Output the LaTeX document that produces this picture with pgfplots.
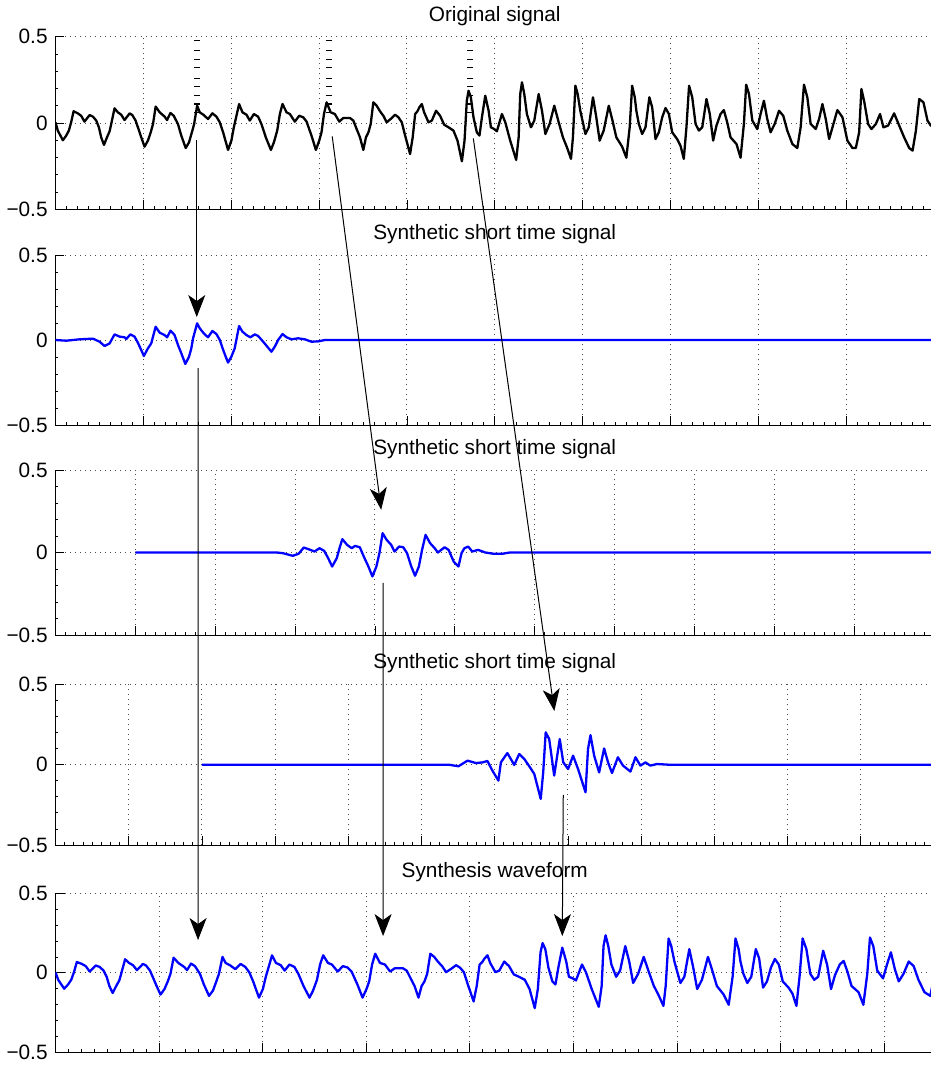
\documentclass[border=0pt]{standalone}
\usepackage{fontspec}
\setmainfont{Liberation Sans}
\usepackage{pgfplots}
\pgfplotsset{compat=1.18}
\usepackage{pgfplotstable}
\usetikzlibrary{arrows.meta}

\definecolor{mblue}{RGB}{0,0,255}
\newcommand\fs{\fontsize{10.4}{12.5}\selectfont}

% speech segment, sample index vs amplitude
\pgfplotstableread{
s v
0 0.004
13 -0.044
42 -0.100
61 -0.073
76 -0.044
89 0.004
103 0.068
127 0.056
146 0.042
165 0.008
194 0.046
213 0.037
232 0.014
247 -0.025
260 -0.083
276 -0.127
293 -0.083
308 -0.048
317 -0.006
336 0.085
355 0.062
374 0.048
393 0.017
422 0.056
437 0.046
456 0.014
469 -0.025
488 -0.083
507 -0.137
526 -0.102
542 -0.054
555 -0.006
570 0.095
593 0.062
621 0.037
635 0.017
654 0.058
673 0.042
697 -0.006
716 -0.073
741 -0.145
760 -0.112
779 -0.044
789 -0.006
806 0.100
821 0.062
844 0.046
868 0.023
893 0.056
916 0.037
935 0.004
954 -0.054
982 -0.156
1001 -0.102
1015 -0.025
1030 0.042
1045 0.110
1064 0.062
1087 0.048
1106 0.014
1129 0.052
1153 0.037
1172 -0.006
1197 -0.083
1226 -0.156
1243 -0.112
1262 -0.044
1277 0.052
1292 0.110
1315 0.062
1334 0.052
1362 0.008
1387 0.042
1410 0.033
1429 0.008
1457 -0.073
1482 -0.156
1501 -0.102
1514 -0.054
1528 0.052
1543 0.120
1566 0.062
1590 0.052
1615 0.008
1638 0.029
1676 0.029
1695 0.014
1714 -0.035
1733 -0.083
1752 -0.156
1767 -0.083
1781 -0.054
1794 -0.006
1809 0.120
1828 0.100
1847 0.068
1866 0.042
1885 0.004
1914 0.029
1933 0.048
1952 0.033
1971 0.004
1990 -0.073
2018 -0.180
2033 -0.083
2047 0.052
2060 0.068
2071 0.091
2085 0.110
2098 0.062
2123 0.004
2142 0.014
2166 0.071
2189 0.042
2212 -0.010
2237 -0.025
2265 -0.044
2288 -0.102
2313 -0.222
2328 -0.102
2341 0.129
2351 0.187
2364 0.149
2379 0.033
2398 -0.054
2413 -0.073
2427 0.033
2446 0.158
2465 0.071
2478 -0.025
2497 -0.035
2512 -0.048
2527 0.004
2541 0.052
2560 0.004
2588 -0.102
2622 -0.214
2636 -0.083
2645 0.168
2655 0.236
2668 0.168
2683 0.052
2706 -0.025
2725 0.014
2750 0.168
2769 0.071
2788 -0.064
2812 -0.006
2839 0.100
2864 0.004
2888 -0.083
2911 -0.141
2934 -0.208
2945 -0.083
2959 0.216
2972 0.168
2987 0.071
3016 -0.064
3035 -0.025
3059 0.149
3078 0.033
3097 -0.102
3120 -0.044
3149 0.100
3168 0.023
3192 -0.083
3225 -0.137
3249 -0.201
3268 -0.025
3282 0.216
3297 0.149
3306 0.071
3320 -0.006
3339 -0.064
3358 -0.025
3380 0.149
3396 0.091
3415 -0.093
3434 -0.054
3453 0.033
3472 0.087
3491 0.052
3510 -0.054
3538 -0.093
3557 -0.131
3576 -0.208
3591 -0.025
3606 0.216
3624 0.149
3643 -0.006
3662 -0.044
3681 -0.025
3705 0.139
3724 0.052
3743 -0.102
3762 -0.015
3785 0.052
3804 0.075
3823 0.004
3842 -0.083
3876 -0.122
3899 -0.201
3918 -0.006
3931 0.222
3947 0.168
3966 0.014
3994 -0.035
4013 0.052
4032 0.129
4051 0.023
4070 -0.054
4093 -0.006
4118 0.071
4142 0.042
4165 -0.044
4194 -0.122
4222 -0.145
4241 -0.025
4260 0.222
4279 0.149
4298 -0.006
4327 -0.035
4346 0.023
4365 0.110
4384 0.023
4403 -0.093
4425 -0.015
4450 0.075
4479 0.033
4507 -0.102
4536 -0.145
4555 -0.145
4574 -0.054
4587 0.197
4602 0.129
4625 -0.006
4644 -0.035
4669 -0.006
4693 0.052
4712 -0.025
4739 -0.015
4773 0.056
4802 -0.015
4830 -0.083
4859 -0.145
4878 -0.160
4897 -0.044
4916 0.139
4940 0.120
4963 0.014
4982 -0.015
5000 -0.020
}\original

% windowed frame around the first pitch mark
\pgfplotstableread{
s v
0 0
61 -0.004
137 0.004
213 0.008
251 -0.010
279 -0.035
308 -0.020
336 0.033
365 0.020
393 0.016
403 0.006
426 0.033
450 0.020
469 -0.016
488 -0.059
503 -0.094
526 -0.049
545 -0.020
570 0.078
593 0.043
621 0.029
635 0.016
655 0.055
678 0.029
697 -0.029
716 -0.078
739 -0.141
760 -0.098
773 -0.049
783 0.010
806 0.098
821 0.069
844 0.039
868 0.016
893 0.053
916 0.035
935 0.000
958 -0.069
982 -0.133
1001 -0.098
1020 -0.049
1033 0.020
1045 0.082
1064 0.049
1087 0.029
1109 0.016
1134 0.033
1153 0.024
1182 -0.010
1210 -0.045
1229 -0.069
1248 -0.039
1267 0.000
1292 0.035
1315 0.016
1343 0.004
1381 0.010
1419 0.004
1457 -0.010
1495 -0.008
1533 0
5000 0
}\frameA

% windowed frame around the second pitch mark
\pgfplotstableread{
s v
0 0
886 0
923 -0.004
985 -0.020
1022 -0.008
1054 0.030
1096 0.016
1121 0.006
1153 0.026
1182 0.010
1207 -0.034
1232 -0.085
1261 -0.034
1281 0.036
1296 0.081
1326 0.046
1355 0.026
1375 0.040
1405 0.032
1430 -0.024
1459 -0.085
1484 -0.145
1509 -0.085
1528 -0.004
1548 0.117
1573 0.077
1602 0.046
1622 0.006
1652 0.036
1677 0.032
1701 -0.004
1726 -0.081
1751 -0.141
1775 -0.085
1795 0.016
1817 0.107
1845 0.057
1874 0.026
1894 0.000
1936 0.032
1961 0.016
1993 -0.055
2023 -0.085
2042 -0.004
2060 0.026
2084 0.036
2109 0.006
2146 0.016
2191 0.000
2245 -0.008
2294 -0.008
2344 0
5000 0
}\frameB

% windowed frame around the third pitch mark
\pgfplotstableread{
s v
0 0
1684 0
1752 -0.010
1814 0.025
1872 0.010
1916 0.014
1950 0.023
1984 -0.037
2025 -0.099
2042 0.014
2066 0.046
2086 0.072
2110 0.035
2133 -0.002
2167 0.066
2202 0.035
2236 -0.010
2270 -0.058
2314 -0.213
2331 -0.048
2348 0.201
2372 0.159
2406 -0.068
2444 0.159
2468 0.014
2501 -0.027
2535 0.056
2569 -0.027
2620 -0.172
2637 0.097
2654 0.184
2679 0.056
2713 -0.048
2747 0.101
2774 0.014
2801 -0.052
2841 0.046
2876 -0.006
2927 -0.043
2961 0.046
2995 -0.006
3029 0.014
3063 -0.006
3108 0.004
3182 0
5000 0
}\frameC

\pgfplotsset{
  panel/.style={
    scale only axis, width=439.25pt, anchor=north west,
    ymin=-0.5, ymax=0.5, ytick={-0.5,0,0.5}, yticklabels={−0.5,0,0.5},
    minor y tick num=4, minor x tick num=7,
    xticklabels={},
    axis x line=bottom, axis y line=left,
    axis line style={-, line width=0.5pt, black},
    tick align=inside, major tick length=4.5pt, minor tick length=1.5pt,
    tick style={black, line width=0.4pt},
    grid=major,
    major grid style={dash pattern=on 0.5pt off 2pt, line width=0.5pt, black!70},
    tick label style={font=\fs},
    yticklabel style={inner sep=0pt, anchor=east, xshift=-3.75pt},
    every axis title/.style={at={(0.5,1)}, anchor=base, yshift=7.75pt, font=\fs},
  },
  sig/.style={line width=1.15pt, line join=round},
  pm/.style={only marks, mark=-, mark size=1.5pt, mark options={line width=0.6pt, black}},
}

\begin{document}
\begin{tikzpicture}

\begin{axis}[panel, at={(27.75pt,-18.35pt)}, height=86.3pt,
  xmin=0, xmax=5000, xtick={0,500,...,5000}, title={Original signal}]
  \addplot[sig, black] table[x=s, y=v] {\original};
  % pitch marks
  \addplot[pm] coordinates {(804,0.06) (804,0.11) (804,0.16) (804,0.21) (804,0.26) (804,0.32) (804,0.37) (804,0.42) (804,0.48)};
  \addplot[pm] coordinates {(1559,0.06) (1559,0.11) (1559,0.16) (1559,0.21) (1559,0.26) (1559,0.32) (1559,0.37) (1559,0.42) (1559,0.48)};
  \addplot[pm] coordinates {(2361,0.06) (2361,0.11) (2361,0.16) (2361,0.21) (2361,0.26) (2361,0.32) (2361,0.37) (2361,0.42) (2361,0.48)};
  \coordinate (p1a) at (axis cs:804,-0.10);
  \coordinate (p1b) at (axis cs:1575,-0.078);
  \coordinate (p1c) at (axis cs:2378,-0.089);
\end{axis}

\begin{axis}[panel, at={(27.75pt,-127.5pt)}, height=85pt,
  xmin=0, xmax=5000, xtick={0,500,...,5000}, title={Synthetic short time signal}]
  \addplot[sig, mblue] table[x=s, y=v] {\frameA};
  \coordinate (f1top) at (axis cs:804,0.135);
  \coordinate (f1bot) at (axis cs:812,-0.165);
\end{axis}

\begin{axis}[panel, at={(27.75pt,-235pt)}, height=82.5pt,
  xmin=-500, xmax=5000, xtick={-500,0,...,5000}, title={Synthetic short time signal}]
  \addplot[sig, mblue] table[x=s, y=v] {\frameB};
  \coordinate (f2top) at (axis cs:1539,0.259);
  \coordinate (f2bot) at (axis cs:1551,-0.184);
\end{axis}

\begin{axis}[panel, at={(27.75pt,-342.15pt)}, height=80.35pt,
  xmin=-1000, xmax=5000, xtick={-1000,-500,...,5000}, title={Synthetic short time signal}]
  \addplot[sig, mblue] table[x=s, y=v] {\frameC};
  \coordinate (f3top) at (axis cs:2407,0.334);
  \coordinate (f3bot) at (axis cs:2468,-0.188);
\end{axis}

\begin{axis}[panel, at={(27.75pt,-446.65pt)}, height=79.5pt,
  xmin=0, xmax=4240, xtick={0,500,...,4000}, title={Synthesis waveform}]
  \addplot[sig, mblue] table[x=s, y=v] {\original};
  \coordinate (s1) at (axis cs:688,0.206);
  \coordinate (s2) at (axis cs:1581,0.231);
  \coordinate (s3) at (axis cs:2446,0.231);
\end{axis}

\tikzset{flow/.style={line width=0.5pt, black, -{Stealth[length=11pt, width=8.5pt, inset=3pt]}}}
\draw[flow] (p1a) -- (f1top);
\draw[flow] (p1b) -- (f2top);
\draw[flow] (p1c) -- (f3top);
\draw[flow] (f1bot) -- (s1);
\draw[flow] (f2bot) -- (s2);
\draw[flow] (f3bot) -- (s3);

\pgfresetboundingbox
\useasboundingbox (0,0) rectangle (465.5pt,-533pt);
\end{tikzpicture}
\end{document}
